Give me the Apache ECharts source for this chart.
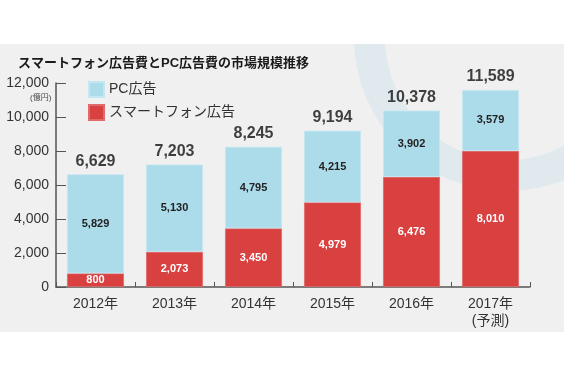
<!DOCTYPE html>
<html>
<head>
<meta charset="utf-8">
<script src="https://cdn.jsdelivr.net/npm/echarts@6/dist/echarts.min.js"></script>
<style>
  html, body { margin: 0; padding: 0; background: #fff; }
  #chart { width: 564px; height: 376px; }
</style>
</head>
<body>
<div id="chart"></div>
<script>
let years = ["2012年", "2013年", "2014年", "2015年", "2016年", "2017年\n(予測)"];
let smartphone = [800, 2073, 3450, 4979, 6476, 8010];   // スマートフォン広告
let pc = [5829, 5130, 4795, 4215, 3902, 3579];          // PC広告
let totals = [6629, 7203, 8245, 9194, 10378, 11589];

let FONT = "'Liberation Sans', 'Noto Sans CJK JP', sans-serif";
let fmt = function (v) {
    return String(v).replace(/\B(?=(\d{3})+(?!\d))/g, ",");
};

let myEcharts = echarts.init(document.getElementById("chart"));
let option = {
    animation: false,
    textStyle: { fontFamily: FONT },
    title: {
        text: "スマートフォン広告費とPC広告費の市場規模推移",
        left: 13,
        top: 52,
        textStyle: { fontSize: 13, fontWeight: "bold", color: "#1a1a1a", fontFamily: FONT }
    },
    //背景と飾りの輪
    graphic: [
        { type: "rect", z: -30, shape: { x: 0, y: 44, width: 564, height: 288 }, style: { fill: "#f0f0f0" } },
        { type: "ring", z: -20, shape: { cx: 507, cy: 38, r: 153, r0: 122 }, style: { fill: "#e0eaee" } },
        { type: "rect", z: -10, shape: { x: 0, y: 0, width: 564, height: 44 }, style: { fill: "#ffffff" } },
        { type: "text", z: 5, left: 30, top: 94, style: { text: "(億円)", fontSize: 8, fill: "#444", fontFamily: FONT } }
    ],
    legend: {
        orient: "vertical",
        left: 83,
        top: 76,
        itemWidth: 15,
        itemHeight: 15,
        itemGap: 6,
        icon: "rect",
        data: ["PC広告", "スマートフォン広告"],
        textStyle: { fontSize: 14, color: "#333", fontFamily: FONT }
    },
    grid: { left: 56, right: 34, top: 83, bottom: 89 },
    xAxis: {
        type: "category",
        data: years,
        axisLine: { lineStyle: { color: "#555", width: 1.5 } },
        axisTick: { show: true, inside: true, length: 5, lineStyle: { color: "#555" } },
        axisLabel: { fontSize: 14, color: "#333", margin: 9, lineHeight: 17 }
    },
    yAxis: {
        type: "value",
        min: 0,
        max: 12000,
        interval: 2000,
        splitLine: { show: false },
        axisLine: { show: true, lineStyle: { color: "#555", width: 1.5 } },
        axisTick: { show: true, inside: true, length: 10, lineStyle: { color: "#555" } },
        axisLabel: { fontSize: 14, color: "#333", margin: 7, formatter: fmt }
    },
    series: [
        {
            name: "スマートフォン広告",
            type: "bar",
            stack: "all",
            barWidth: "72%",
            data: smartphone,
            itemStyle: { color: "#d94040", borderColor: "#e06a6a", borderWidth: 0.8 },
            label: {
                show: true,
                position: "inside",
                color: "#fff",
                fontSize: 11,
                fontWeight: "bold",
                formatter: function (p) { return fmt(p.value); }
            }
        },
        {
            name: "PC広告",
            type: "bar",
            stack: "all",
            data: pc,
            itemStyle: { color: "#acdcea", borderColor: "#c4e7f1", borderWidth: 0.8 },
            label: {
                show: true,
                position: "inside",
                color: "#222",
                fontSize: 11,
                fontWeight: "bold",
                formatter: function (p) { return fmt(p.value); }
            }
        },
        {
            //合計ラベル
            name: "合計",
            type: "scatter",
            symbolSize: 0,
            data: totals,
            silent: true,
            label: {
                show: true,
                position: "top",
                distance: 5,
                color: "#111",
                fontSize: 16,
                fontWeight: "bold",
                formatter: function (p) { return fmt(p.value); }
            }
        }
    ]
};
myEcharts.setOption(option);
</script>
</body>
</html>
